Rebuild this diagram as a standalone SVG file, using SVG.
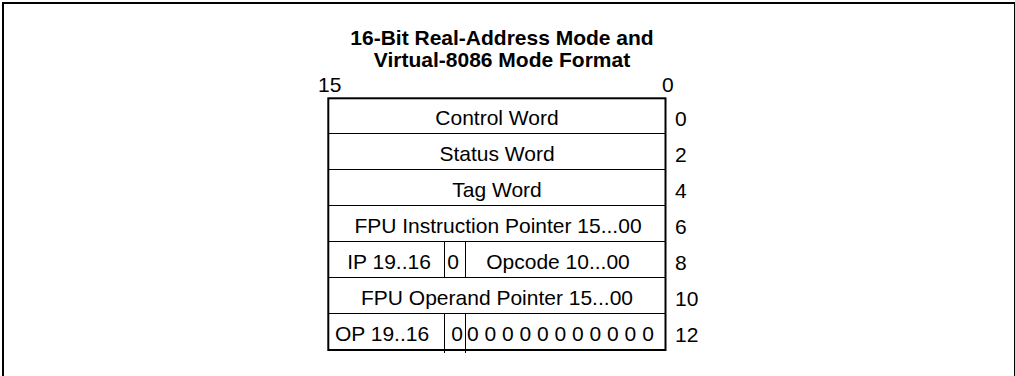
<svg xmlns="http://www.w3.org/2000/svg" width="1015" height="376" viewBox="0 0 1015 376">
<style>
text{font-family:"Liberation Sans",Arial,sans-serif;font-size:21px;fill:#000}
.t{font-weight:bold;text-anchor:middle}
.c{text-anchor:middle}
.thin{stroke:#000;stroke-width:1;fill:none}
.thick{stroke:#000;stroke-width:2;fill:none}
</style>
<rect x="0" y="0" width="1015" height="376" fill="#fff"/>
<rect class="thick" x="3" y="3" width="1012" height="400"/>
<g id="title">
<text class="t" x="502" y="45">16-Bit Real-Address Mode and</text>
<text class="t" x="502" y="67">Virtual-8086 Mode Format</text>
<text x="318" y="92">15</text>
<text x="662" y="92">0</text>
</g>
<g id="table">
<rect class="thick" x="328.3" y="98.3" width="337.2" height="251.7"/>
</g>
<g id="connectors">
<line class="thin" x1="328" y1="133.5" x2="666" y2="133.5"/>
<line class="thin" x1="328" y1="169.5" x2="666" y2="169.5"/>
<line class="thin" x1="328" y1="205.5" x2="666" y2="205.5"/>
<line class="thin" x1="328" y1="241.5" x2="666" y2="241.5"/>
<line class="thin" x1="328" y1="277.5" x2="666" y2="277.5"/>
<line class="thin" x1="328" y1="313.5" x2="666" y2="313.5"/>
<line class="thin" x1="444.5" y1="241.5" x2="444.5" y2="277.5"/>
<line class="thin" x1="465.5" y1="241.5" x2="465.5" y2="277.5"/>
<line class="thin" x1="444.5" y1="313.5" x2="444.5" y2="353"/>
<line class="thin" x1="465.5" y1="313.5" x2="465.5" y2="353"/>
</g>
<g id="row0"><text class="c" x="497" y="124.5">Control Word</text><text x="675" y="126">0</text></g>
<g id="row2"><text class="c" x="497" y="160.5">Status Word</text><text x="675" y="162">2</text></g>
<g id="row4"><text class="c" x="497" y="196.5">Tag Word</text><text x="675" y="198">4</text></g>
<g id="row6"><text class="c" x="498" y="232.5">FPU Instruction Pointer 15...00</text><text x="675" y="234">6</text></g>
<g id="row8"><text class="c" x="389" y="268.5">IP 19..16</text><text class="c" x="453" y="268.5">0</text><text class="c" x="558" y="268.5">Opcode 10...00</text><text x="675" y="270">8</text></g>
<g id="row10"><text class="c" x="497" y="304.5">FPU Operand Pointer 15...00</text><text x="675" y="306">10</text></g>
<g id="row12"><text class="c" x="382" y="340.5">OP 19..16</text><text class="c" x="457" y="340.5">0</text><text x="467" y="340.5">0 0 0 0 0 0 0 0 0 0 0</text><text x="675" y="342">12</text></g>
</svg>
